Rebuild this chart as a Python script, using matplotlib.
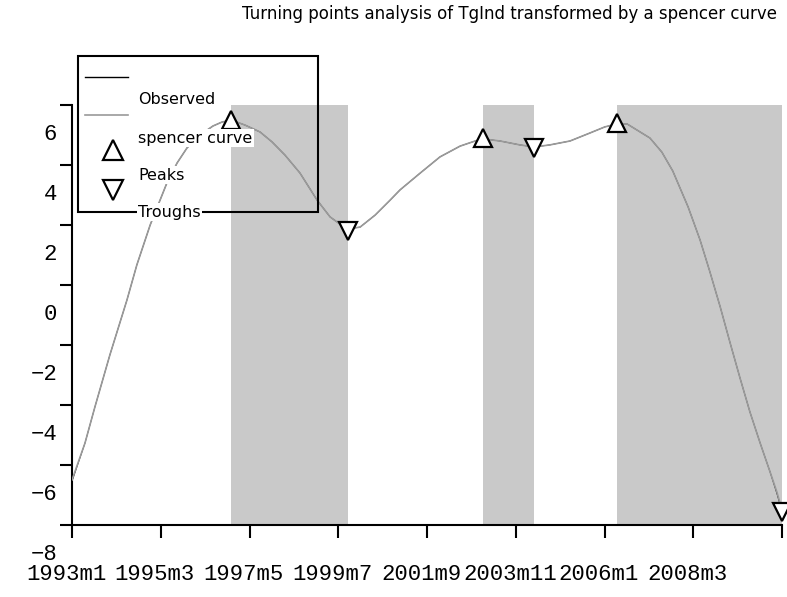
import matplotlib
matplotlib.use("Agg")
import matplotlib.pyplot as plt
from matplotlib.lines import Line2D
from matplotlib.patches import Rectangle
from matplotlib.transforms import ScaledTranslation

# x = months since 1993m1
months = [0, 3.8, 6.7, 11.1, 16.1, 19.0, 22.9, 25.8, 27.8, 30.8, 33.7, 37.5,
          41.3, 43.9, 46.6, 50.7, 55.1, 58.6, 62.4, 66.8, 71.8, 75.6, 78.5,
          80.9, 84.4, 88.8, 93.2, 96.1, 102.0, 107.8, 113.7, 118.1, 120.4,
          125.4, 131.2, 135.4, 140.0, 145.9, 151.8, 156.1, 159.7, 162.6,
          169.3, 172.8, 176.0, 180.5, 184.0, 186.9, 189.9, 192.8, 195.7,
          198.6, 201.6, 204.5, 206.5, 208.0]
spencer = [-5.5, -4.27, -3.07, -1.33, 0.5, 1.67, 3.0, 3.83, 4.4, 5.07, 5.57,
           6.0, 6.3, 6.43, 6.5, 6.33, 6.1, 5.77, 5.33, 4.73, 3.83, 3.27,
           3.03, 2.87, 2.93, 3.33, 3.83, 4.17, 4.73, 5.27, 5.63, 5.8, 5.87,
           5.8, 5.67, 5.6, 5.67, 5.8, 6.07, 6.27, 6.37, 6.37, 5.9, 5.43,
           4.8, 3.6, 2.5, 1.43, 0.27, -0.93, -2.1, -3.23, -4.27, -5.23,
           -5.9, -6.5]
observed = [-5.55, -4.27, -3.07, -1.33, 0.5, 1.67, 3.0, 3.83, 4.4, 5.07,
            5.57, 6.0, 6.3, 6.43, 6.5, 6.33, 6.1, 5.77, 5.33, 4.73, 3.83,
            3.27, 3.03, 2.87, 2.93, 3.33, 3.83, 4.17, 4.73, 5.27, 5.63, 5.8,
            5.87, 5.8, 5.67, 5.6, 5.67, 5.8, 6.07, 6.27, 6.37, 6.37, 5.9,
            5.43, 4.8, 3.6, 2.5, 1.43, 0.27, -0.93, -2.1, -3.23, -4.27,
            -5.23, -5.95, -6.55]

peak_m = [46.6, 120.4, 159.7]
peak_v = [6.5, 5.9, 6.4]
trough_m = [80.9, 135.4, 208.0]
trough_v = [2.8, 5.57, -6.57]

xtick_pos = [0, 26, 52, 78, 104, 130, 156, 182, 208]
xtick_lab = ["1993m1", "1995m3", "1997m5", "1999m7", "2001m9", "2003m11",
             "2006m1", "2008m3"]
ytick_pos = [-7, -5, -3, -1, 1, 3, 5, 7]
ylab_pos = [6, 4, 2, 0, -2, -4, -6, -8]

title = "Turning points analysis of TgInd transformed by a spencer curve"

W, H = 787, 597
mono = ["Liberation Mono", "DejaVu Sans Mono"]
num_size = 16

fig = plt.figure(figsize=(W / 100, H / 100), dpi=100)
ax = fig.add_axes([72 / W, 1 - 525 / H, 710 / W, 420 / H])

for a, b in zip(peak_m, trough_m):
    ax.axvspan(a, b, color="#c9c9c9", lw=0, zorder=0)

ax.plot(months, observed, color="black", lw=0.6, zorder=2)
ax.plot(months, spencer, color="#9a9a9a", lw=1.2, zorder=3)
ax.plot(peak_m, peak_v, ls="none", marker="^", ms=13, mfc="white",
        mec="black", mew=1.6, zorder=4, clip_on=False)
ax.plot(trough_m, trough_v, ls="none", marker="v", ms=13, mfc="white",
        mec="black", mew=1.6, zorder=4, clip_on=False)

ax.set_xlim(0, 208)
ax.set_ylim(-7, 7)
ax.set_xticks(xtick_pos)
ax.set_yticks(ytick_pos)
ax.tick_params(axis="both", direction="out", length=9, width=1.5,
               labelleft=False, labelbottom=False)
for s in ["top", "right"]:
    ax.spines[s].set_visible(False)
for s in ["left", "bottom"]:
    ax.spines[s].set_linewidth(1.5)

# y labels sit between the tick marks, as in the original
for v in ylab_pos:
    ax.text(-15 / 710, v, f"{v}".replace("-", "\u2212"),
            transform=ax.get_yaxis_transform(), ha="right", va="center",
            fontsize=num_size, family=mono, clip_on=False)

shift = ScaledTranslation(-6 / 100, 0, fig.dpi_scale_trans)
for x, lab in zip(xtick_pos, xtick_lab):
    ax.text(x, -50 / 420, lab, transform=ax.get_xaxis_transform() + shift,
            ha="center", va="center", fontsize=num_size, family=mono,
            clip_on=False)

fig.text(777 / W, 1 - 14 / H, title, ha="right", va="center", fontsize=12,
         family="DejaVu Sans")


# hand-drawn legend box, like the original layout
def fx(px):
    return px / W


def fy(py):
    return 1 - py / H


fig.add_artist(Rectangle((fx(78), fy(212)), fx(318) - fx(78), fy(56) - fy(212),
                         fill=False, ec="black", lw=1.5, zorder=1))
fig.add_artist(Line2D([fx(85), fx(128)], [fy(77), fy(77)], color="black",
                      lw=1.0))
fig.add_artist(Line2D([fx(85), fx(128)], [fy(115), fy(115)],
                      color="#9a9a9a", lw=1.2))
fig.add_artist(Line2D([fx(113)], [fy(150)], ls="none", marker="^", ms=14,
                      mfc="white", mec="black", mew=1.6))
fig.add_artist(Line2D([fx(113)], [fy(190)], ls="none", marker="v", ms=14,
                      mfc="white", mec="black", mew=1.6))
leg_labels = ["Observed", "spencer curve", "Peaks", "Troughs"]
leg_y = [100, 138, 175, 212]
for lab, py in zip(leg_labels, leg_y):
    fig.text(fx(138), fy(py), lab, ha="left", va="center", fontsize=11.5,
             family="DejaVu Sans", zorder=3,
             bbox=dict(facecolor="white", edgecolor="none", pad=1))

fig.savefig("out.png", dpi=100)
